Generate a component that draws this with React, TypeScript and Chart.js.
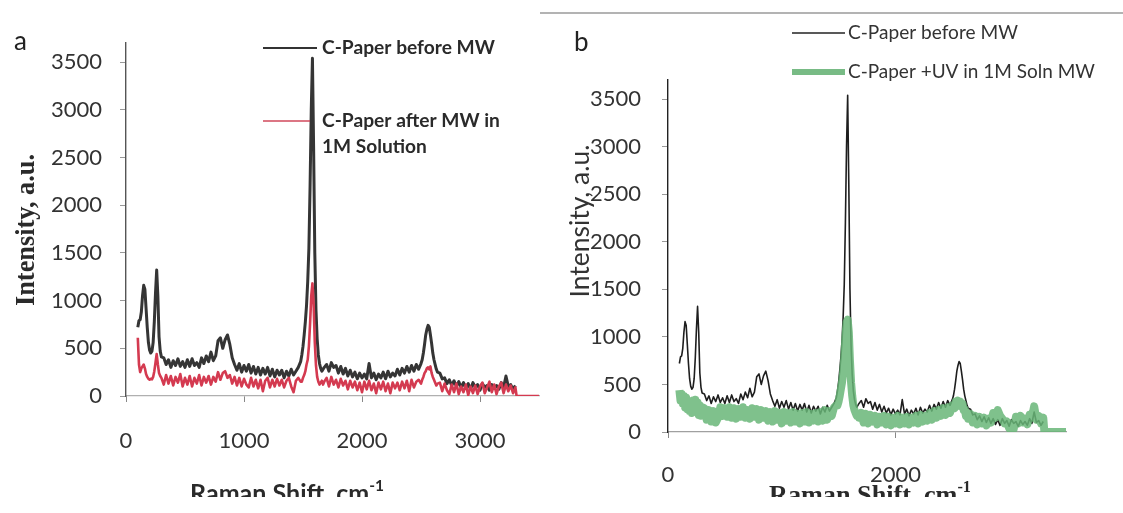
import React, { useEffect, useRef } from "react";
import { Chart, registerables } from "chart.js";

Chart.register(...registerables);

// Raman shift (cm-1), shared by every series
const ramanShift = [
  100, 110, 120, 130, 140, 150, 160, 170, 180, 190,
  200, 210, 220, 230, 240, 250, 260, 270, 280, 290,
  300,
  320, 340, 360, 380, 400, 420, 440, 460, 480, 500,
  520, 540, 560, 580, 600, 620, 640, 660, 680, 700,
  720, 740, 760, 780, 800, 820, 840, 860, 880, 900,
  920, 940, 960, 980, 1000, 1020, 1040, 1060, 1080, 1100,
  1120, 1140, 1160, 1180, 1200, 1220, 1240, 1260, 1280, 1300,
  1320, 1340, 1360, 1380, 1400, 1420, 1440, 1460, 1480,
  1490, 1500, 1510, 1520, 1530, 1540, 1550, 1560, 1570, 1580,
  1590, 1600, 1610, 1620, 1630, 1640, 1650, 1660, 1670, 1680,
  1700, 1720, 1740, 1760, 1780, 1800, 1820, 1840, 1860, 1880,
  1900, 1920, 1940, 1960, 1980, 2000, 2020, 2040, 2060, 2080,
  2100, 2120, 2140, 2160, 2180, 2200, 2220, 2240, 2260, 2280,
  2300, 2320, 2340, 2360, 2380, 2400, 2420, 2440, 2460, 2480,
  2500,
  2510, 2520, 2530, 2540, 2550, 2560, 2570, 2580, 2590, 2600,
  2610, 2620, 2630, 2640,
  2660, 2680, 2700, 2720, 2740, 2760, 2780, 2800, 2820, 2840,
  2860, 2880, 2900, 2920, 2940, 2960, 2980, 3000, 3020, 3040,
  3060, 3080, 3100, 3120, 3140, 3160, 3180, 3200, 3220, 3240,
  3260, 3280, 3300,
  3310, 3400, 3500,
];

// C-Paper before MW
const beforeMW: (number | null)[] = [
  720, 790, 800, 880, 1050, 1160, 1120, 920, 720, 560,
  480, 450, 470, 560, 780, 1080, 1320, 1050, 620, 470,
  410,
  400, 330, 380, 300, 370, 320, 390, 310, 360, 300,
  380, 310, 390, 320, 350, 300, 400, 340, 420, 360,
  460, 370, 420, 580, 610, 500, 590, 640, 540, 400,
  330, 270, 340, 250, 320, 260, 330, 240, 310, 230,
  300, 220, 290, 230, 300, 210, 280, 200, 270, 220,
  270, 190, 260, 210, 280, 220, 260, 300, 360,
  430, 520, 640, 780, 950, 1200, 1550, 2200, 3000, 3540,
  2600, 1500, 900, 600, 430, 340, 290, 260, 280, 300,
  330, 260, 350, 300, 320, 240, 310, 230, 290, 210,
  270, 200, 250, 180, 240, 190, 230, 180, 340, 190,
  240, 170, 230, 190, 250, 180, 260, 200, 240, 210,
  280, 220, 290, 240, 310, 250, 320, 260, 330, 280,
  340,
  380, 450, 540, 640, 700, 740, 720, 640, 550, 450,
  380, 330, 280, 250,
  240, 180, 190, 130, 170, 110, 160, 100, 150, 90,
  140, 80, 130, 70, 140, 90, 120, 60, 130, 90,
  110, 60, 120, 80, 110, 70, 140, 90, 210, 100,
  120, 70, 110,
  null, null, null,
];

// C-Paper after MW in 1M Solution
const afterMW1M = [
  610, 330, 250, 290, 310, 330, 290, 230, 200, 180,
  170, 180, 175, 200, 260, 350, 440, 330, 240, 210,
  190,
  120, 220, 130, 210, 110, 200, 140, 230, 100, 190,
  120, 210, 100, 190, 130, 220, 110, 200, 140, 210,
  120, 200, 150, 250, 170, 240, 260, 190, 220, 130,
  200, 110, 190, 100, 180, 120, 90, 190, 100, 170,
  80, 170, 50, 160, 190, 90, 170, 100, 180, 110,
  170, 90, 160, 190, 100, 40, 160, 190, 150,
  150, 190, 220, 260, 330, 380, 520, 760, 1050, 1180,
  960, 560, 320, 200, 150, 120, 140, 160, 120, 150,
  190, 100, 200, 120, 170, 90, 180, 110, 160, 70,
  160, 90, 150, 60, 140, 40, 150, 70, 160, 60,
  130, 30, 140, 70, 150, 50, 130, 30, 140, 80,
  140, 60, 150, 80, 160, 50, 170, 90, 150, 170,
  130,
  170, 200, 240, 260, 290, 300, 280, 310, 240, 200,
  170, 140, 110, 130,
  140, 50, 130, 60, 20, 120, 40, 130, 20, 100,
  40, 120, 10, 100, 30, 110, 20, 100, 140, 30,
  90, 150, 40, 120, 20, 100, 140, 30, 120, 50,
  110, 30, 90,
  0, 0, 0,
];

// C-Paper +UV in 1M Soln MW
const uvMW1M = [
  440, 330, 400, 300, 380, 260, 360, 240, 320, 220,
  300, 200, 330, 250, 340, 220, 310, 180, 280, 170,
  260,
  250, 130, 230, 110, 220, 100, 150, 260, 170, 250,
  160, 260, 150, 250, 140, 240, 160, 260, 150, 230,
  140, 250, 160, 240, 130, 230, 150, 220, 120, 210,
  110, 220, 130, 200, 90, 210, 120, 200, 100, 210,
  110, 190, 90, 200, 110, 210, 100, 190, 120, 200,
  110, 210, 120, 230, 130, 220, 170, 260, 280,
  280, 320, 380, 450, 520, 620, 780, 1000, 1150, 1180,
  1050, 750, 520, 380, 280, 230, 200, 170, 190, 150,
  200, 100, 190, 90, 180, 110, 170, 80, 160, 100,
  170, 80, 160, 70, 150, 90, 170, 80, 150, 90,
  160, 80, 150, 100, 170, 90, 180, 110, 170, 120,
  200, 130, 220, 150, 230, 170, 250, 180, 260, 200,
  280,
  280, 250, 320, 270, 330, 280, 320, 270, 300, 230,
  240, 170, 200, 140,
  190, 100, 170, 80, 160, 90, 150, 70, 140, 100,
  200, 150, 230, 170, 140, 90, 110, 40, 80, 30,
  160, 90, 170, 100, 140, 80, 180, 150, 270, 130,
  170, 90, 150,
  0, 0, 0,
];

const yTickValues = [0, 500, 1000, 1500, 2000, 2500, 3000, 3500];
const xTickValuesA = [0, 1000, 2000, 3000];
const xTickValuesB = [0, 2000];

const seriesLabels = ["C-Paper before MW", "C-Paper after MW in 1M Solution", "C-Paper +UV in 1M Soln MW"];

type Deco =
  | {
      kind: "text";
      text: string;
      x: number;
      y: number;
      size: number;
      family: string;
      weight?: string;
      color?: string;
      align?: "left" | "center" | "right";
      rotate?: number;
      width?: number;
      sup?: string;
    }
  | { kind: "line"; x1: number; x2: number; y: number; color: string; width: number };

function overlay(id: string, items: Deco[]) {
  return {
    id,
    afterDraw(chart: any) {
      const ctx: CanvasRenderingContext2D = chart.ctx;
      for (const it of items) {
        ctx.save();
        if (it.kind === "line") {
          ctx.strokeStyle = it.color;
          ctx.lineWidth = it.width;
          ctx.lineCap = "butt";
          ctx.beginPath();
          ctx.moveTo(it.x1, it.y);
          ctx.lineTo(it.x2, it.y);
          ctx.stroke();
        } else {
          const weight = it.weight ?? "normal";
          const fontOf = (s: number) => `${weight} ${s}px ${it.family}`;
          let size = it.size;
          const measure = (s: number) => {
            ctx.font = fontOf(s);
            const m = ctx.measureText(it.text).width;
            let sw = 0;
            if (it.sup) {
              ctx.font = fontOf(s * 0.62);
              sw = ctx.measureText(it.sup).width;
            }
            return { m, sw };
          };
          if (it.width) {
            const r = measure(size);
            size = (size * it.width) / (r.m + r.sw);
          }
          const { m, sw } = measure(size);
          const total = m + sw;
          ctx.translate(it.x, it.y);
          if (it.rotate) ctx.rotate(it.rotate);
          const align = it.align ?? "left";
          const sx = align === "center" ? -total / 2 : align === "right" ? -total : 0;
          ctx.fillStyle = it.color ?? "#222";
          ctx.textAlign = "left";
          ctx.textBaseline = "middle";
          ctx.font = fontOf(size);
          ctx.fillText(it.text, sx, 0);
          if (it.sup) {
            ctx.font = fontOf(size * 0.62);
            ctx.fillText(it.sup, sx + m, -size * 0.33);
          }
        }
        ctx.restore();
      }
    },
  };
}

const tickFont = { family: "Lato", size: 22 };
const tickColor = "#333";

function points(ys: (number | null)[]) {
  return ramanShift.map((x, i) => ({ x, y: ys[i] }));
}

function makeScales(xTicks: number[], o: any) {
  return {
    x: {
      type: "linear",
      min: 0,
      max: 3500,
      afterBuildTicks: (s: any) => {
        s.ticks = xTicks.map((v) => ({ value: v }));
      },
      afterFit: (s: any) => {
        s.height = o.xHeight;
      },
      grid: { display: true, drawOnChartArea: false, tickLength: 6, color: "#888", tickWidth: 1 },
      border: { display: true, color: o.xAxisColor, width: 1.3 },
      ticks: { color: tickColor, font: tickFont, padding: o.xPad, maxRotation: 0, callback: (v: any) => `${v}` },
    },
    y: {
      type: "linear",
      min: 0,
      max: 3700,
      afterBuildTicks: (s: any) => {
        s.ticks = yTickValues.map((v) => ({ value: v }));
      },
      afterFit: (s: any) => {
        s.width = o.yWidth;
      },
      grid: { display: true, drawOnChartArea: false, tickLength: 6, color: "#999", tickWidth: 1 },
      border: { display: true, color: o.yAxisColor, width: 1.4 },
      ticks: { color: tickColor, font: tickFont, padding: o.yPad, callback: (v: any) => `${v}` },
    },
  };
}

const decoA: Deco[] = [
  { kind: "text", text: "a", x: 14, y: 42, size: 26, family: "Lato", color: "#222" },
  { kind: "line", x1: 263, x2: 317, y: 48, color: "#333", width: 2.2 },
  { kind: "text", text: "C-Paper before MW", x: 322, y: 48, size: 20, family: "Lato", weight: "bold", width: 173, color: "#2a2a2a" },
  { kind: "line", x1: 263, x2: 310, y: 121, color: "rgba(205,60,80,0.7)", width: 1.8 },
  { kind: "text", text: "C-Paper after MW in", x: 322, y: 121, size: 20, family: "Lato", weight: "bold", width: 178, color: "#2a2a2a" },
  { kind: "text", text: "1M Solution", x: 322, y: 147, size: 20, family: "Lato", weight: "bold", width: 105, color: "#2a2a2a" },
  { kind: "text", text: "Intensity, a.u.", x: 27, y: 230, size: 26, family: "'Liberation Serif'", weight: "bold", rotate: -Math.PI / 2, align: "center", width: 152, color: "#2a2a2a" },
  { kind: "text", text: "Raman Shift, cm", sup: "-1", x: 287, y: 494, size: 22, family: "Lato", weight: "bold", align: "center", width: 194, color: "#2a2a2a" },
];

const decoB: Deco[] = [
  { kind: "line", x1: 0, x2: 583, y: 13, color: "#9a9a9a", width: 1.5 },
  { kind: "text", text: "b", x: 34, y: 43, size: 26, family: "Lato", color: "#222" },
  { kind: "line", x1: 252, x2: 305, y: 33, color: "#222", width: 1.6 },
  { kind: "text", text: "C-Paper before MW", x: 308, y: 33, size: 19, family: "Lato", width: 170, color: "#333" },
  { kind: "line", x1: 252, x2: 305, y: 72, color: "rgba(105,180,120,0.9)", width: 6 },
  { kind: "text", text: "C-Paper +UV in 1M Soln MW", x: 308, y: 72, size: 19, family: "Lato", width: 247, color: "#333" },
  { kind: "text", text: "Intensity, a.u.", x: 40, y: 221, size: 22, family: "Lato", rotate: -Math.PI / 2, align: "center", width: 153, color: "#333" },
  { kind: "text", text: "Raman Shift, cm", sup: "-1", x: 330, y: 496, size: 24, family: "'Liberation Serif'", weight: "bold", align: "center", width: 202, color: "#2a2a2a" },
];

function ChartA() {
  const ref = useRef<HTMLCanvasElement | null>(null);
  useEffect(() => {
    if (!ref.current) return;
    const chart = new Chart(ref.current, {
      type: "line",
      data: {
        datasets: [
          {
            label: seriesLabels[1],
            data: points(afterMW1M),
            borderColor: "rgb(212,58,80)",
            borderWidth: 2.6,
            pointRadius: 0,
            tension: 0,
            borderJoinStyle: "round",
            order: 0,
          },
          {
            label: seriesLabels[0],
            data: points(beforeMW),
            borderColor: "#353535",
            borderWidth: 3,
            pointRadius: 0,
            tension: 0,
            borderJoinStyle: "round",
            order: 1,
          },
        ],
      } as any,
      options: {
        responsive: false,
        animation: false,
        layout: { padding: { left: 0, right: 21, top: 43, bottom: 0 } },
        plugins: { legend: { display: false }, tooltip: { enabled: false } },
        scales: makeScales(xTickValuesA, {
          xHeight: 101,
          yWidth: 126,
          xPad: 26,
          yPad: 18,
          xAxisColor: "#b0b0b0",
          yAxisColor: "#555",
        }) as any,
      },
      plugins: [overlay("decoA", decoA)],
    });
    return () => chart.destroy();
  }, []);
  return <canvas ref={ref} width={560} height={497} style={{ position: "absolute", left: 0, top: 0 }} />;
}

function ChartB() {
  const ref = useRef<HTMLCanvasElement | null>(null);
  useEffect(() => {
    if (!ref.current) return;
    const chart = new Chart(ref.current, {
      type: "line",
      data: {
        datasets: [
          {
            label: seriesLabels[2],
            data: points(uvMW1M),
            borderColor: "rgba(105,182,120,0.85)",
            borderWidth: 8,
            pointRadius: 0,
            tension: 0,
            borderJoinStyle: "round",
            order: 0,
          },
          {
            label: seriesLabels[0],
            data: points(beforeMW),
            borderColor: "#1e1e1e",
            borderWidth: 1.6,
            pointRadius: 0,
            tension: 0,
            borderJoinStyle: "round",
            order: 1,
          },
        ],
      } as any,
      options: {
        responsive: false,
        animation: false,
        layout: { padding: { left: 0, right: 57, top: 80, bottom: 0 } },
        plugins: { legend: { display: false }, tooltip: { enabled: false } },
        scales: makeScales(xTickValuesB, {
          xHeight: 65,
          yWidth: 128,
          xPad: 24,
          yPad: 21,
          xAxisColor: "#a0a0a0",
          yAxisColor: "#222",
        }) as any,
      },
      plugins: [overlay("decoB", decoB)],
    });
    return () => chart.destroy();
  }, []);
  return <canvas ref={ref} width={583} height={497} style={{ position: "absolute", left: 540, top: 0 }} />;
}

export default function App() {
  return (
    <div
      style={{
        position: "absolute",
        left: 0,
        top: 0,
        width: 1123,
        height: 513,
        background: "#fff",
        overflow: "hidden",
      }}
    >
      <ChartA />
      <ChartB />
    </div>
  );
}
